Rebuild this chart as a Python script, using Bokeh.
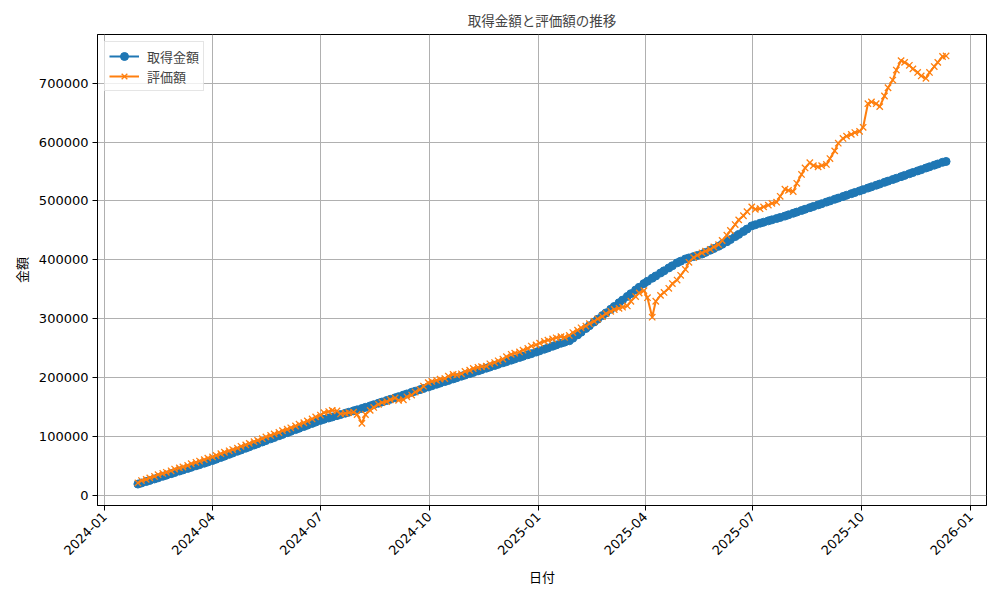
import math
import pandas as pd
from bokeh.plotting import figure
from bokeh.models import Range1d, FixedTicker, DatetimeTickFormatter, NumeralTickFormatter
from bokeh.embed import file_html
from bokeh.resources import INLINE

# ---- data: readings twice a week (Mondays and Thursdays) ----
mondays = pd.date_range("2024-01-29", "2025-12-08", freq="7D")
thursdays = mondays + pd.Timedelta(days=3)

acq_mon = [
    20000, 24300, 28700, 33200, 37600, 42100, 46500, 51000, 55400, 60000,
    65200, 70400, 75700, 80900, 86200, 91400, 96700, 101900, 107200, 112400,
    117600, 122900, 128000, 132100, 136100, 140200, 144200, 148200, 152600, 157200,
    161800, 166300, 170900, 175600, 180100, 184700, 189200, 193800, 198300, 202900,
    207400, 211900, 216500, 221000, 225600, 230100, 234700, 239300, 243800, 248700,
    253700, 258800, 263000, 273000, 283800, 294800, 305700, 316500, 327400, 338200,
    349100, 359900, 369100, 377900, 386500, 395100, 401700, 405800, 410000, 416600,
    423200, 430900, 439600, 448400, 457800, 462300, 466300, 470300, 474400, 479200,
    483900, 488700, 493400, 498100, 502900, 507600, 512400, 517100, 521900, 526700,
    531600, 536400, 541300, 546200, 551000, 555900, 560700, 565600,
]
acq_thu = [
    21800, 26200, 30600, 35100, 39500, 44000, 48400, 52900, 57400, 62200,
    67400, 72700, 77900, 83200, 88400, 93700, 98900, 104200, 109400, 114600,
    119900, 125100, 129800, 133800, 137900, 141900, 145900, 150100, 154600, 159200,
    163700, 168300, 172900, 177500, 182100, 186600, 191200, 195700, 200300, 204800,
    209300, 213900, 218400, 223000, 227500, 232100, 236700, 241200, 245900, 250800,
    255900, 260600, 267300, 277600, 288500, 299500, 310300, 321200, 332000, 342900,
    353700, 363900, 372900, 381600, 390200, 397900, 403500, 407600, 412800, 419400,
    426500, 434600, 443400, 452400, 459700, 464000, 468000, 472100, 476500, 481200,
    486000, 490700, 495400, 500200, 504900, 509700, 514400, 519200, 524000, 528800,
    533700, 538500, 543400, 548300, 553100, 558000, 562800, 567000,
]
val_mon = [
    22000, 28000, 33000, 38000, 42500, 47500, 51500, 57000, 61500, 66000,
    71500, 76500, 81000, 86500, 92000, 97000, 102500, 107500, 113000, 118500,
    124000, 130500, 137000, 143000, 144000, 140000, 142000, 123000, 145000, 155000,
    160000, 166000, 163000, 171000, 180000, 192000, 196000, 199000, 206000, 207000,
    213000, 218000, 220000, 226000, 232000, 240000, 244000, 250000, 256000, 262000,
    266000, 270000, 272000, 281000, 288000, 296000, 304000, 313000, 318000, 322000,
    338000, 348000, 303000, 340000, 352000, 366000, 384000, 404000, 412000, 418000,
    426000, 442000, 460000, 475000, 490000, 487000, 493000, 498000, 520000, 516000,
    545000, 565000, 558000, 562000, 585000, 606000, 613000, 618000, 665000, 665000,
    678000, 705000, 738000, 730000, 718000, 708000, 728000, 745000,
]
val_thu = [
    26000, 30500, 36000, 40000, 45500, 49000, 54500, 59000, 64000, 68500,
    74000, 78500, 84000, 89000, 94000, 100000, 105000, 110500, 115500, 121500,
    127000, 134000, 141000, 145000, 139000, 141000, 138000, 138000, 150000, 158000,
    163000, 162000, 168000, 176000, 186000, 194000, 198000, 203000, 205000, 211000,
    216000, 219000, 224000, 229000, 236000, 242000, 247000, 254000, 259000, 264000,
    268000, 269000, 277000, 285000, 292000, 300000, 309000, 316000, 320000, 330000,
    344000, 336000, 330000, 345000, 360000, 374000, 396000, 408000, 415000, 422000,
    433000, 450000, 468000, 482000, 486000, 490000, 496000, 508000, 518000, 530000,
    556000, 560000, 560000, 572000, 598000, 610000, 616000, 625000, 668000, 660000,
    692000, 722000, 735000, 724000, 712000, 718000, 735000, 746000,
]

y_ticks = [0, 100000, 200000, 300000, 400000, 500000, 600000, 700000]
x_tick_labels = ["2024-01", "2024-04", "2024-07", "2024-10", "2025-01",
                 "2025-04", "2025-07", "2025-10", "2026-01"]

title = "取得金額と評価額の推移"
xlabel = "日付"
ylabel = "金額"
name_acq = "取得金額"
name_val = "評価額"

# interleave Monday / Thursday readings in date order
dates, acquisition, valuation = [], [], []
for d1, d2, a1, a2, v1, v2 in zip(mondays, thursdays, acq_mon, acq_thu, val_mon, val_thu):
    dates += [d1, d2]
    acquisition += [a1, a2]
    valuation += [v1, v2]

# ---- ranges like matplotlib's 5% margins ----
dmin, dmax = min(dates), max(dates)
span = dmax - dmin
x_start = dmin - span * 0.05
x_end = dmax + span * 0.05
vmin = min(min(acquisition), min(valuation))
vmax = max(max(acquisition), max(valuation))
vr = vmax - vmin
y_start = vmin - 0.05 * vr
y_end = vmax + 0.05 * vr

JP = "Noto Sans CJK JP"
NUM = "DejaVu Sans"

p = figure(width=992, height=592, x_axis_type="datetime",
           output_backend="svg", toolbar_location=None,
           x_range=Range1d(x_start, x_end), y_range=Range1d(y_start, y_end),
           min_border_left=97, min_border_right=6, min_border_top=34, min_border_bottom=87)

p.title.text = title
p.title.align = "center"
p.title.text_font = JP
p.title.text_font_size = "13.5px"
p.title.text_font_style = "normal"
p.title.standoff = 9

blue = "#1f77b4"
orange = "#ff7f0e"

p.line(dates, acquisition, color=blue, line_width=2, legend_label=name_acq)
p.scatter(dates, acquisition, marker="circle", size=8, color=blue, legend_label=name_acq)
p.line(dates, valuation, color=orange, line_width=2, legend_label=name_val)
p.scatter(dates, valuation, marker="x", size=9, line_color=orange, line_width=1.3, legend_label=name_val)

# axes
tick_ms = [pd.Timestamp(s + "-01").value // 10**6 for s in x_tick_labels]
p.xaxis.ticker = FixedTicker(ticks=tick_ms)
fmt = "%Y-%m"
p.xaxis.formatter = DatetimeTickFormatter(milliseconds=fmt, seconds=fmt, minsec=fmt, minutes=fmt,
                                          hourmin=fmt, hours=fmt, days=fmt, months=fmt, years=fmt,
                                          context=None)
p.xaxis.major_label_orientation = math.pi / 4
p.yaxis.ticker = FixedTicker(ticks=y_ticks)
p.yaxis.formatter = NumeralTickFormatter(format="0")

for ax in (p.xaxis, p.yaxis):
    ax.major_label_text_font = NUM
    ax.major_label_text_font_size = "13px"
    ax.major_label_text_color = "black"
    ax.axis_line_color = "black"
    ax.major_tick_line_color = "black"
    ax.major_tick_out = 5
    ax.major_tick_in = 0
    ax.minor_tick_line_color = None
    ax.axis_label_text_font = JP
    ax.axis_label_text_font_size = "13px"
    ax.axis_label_text_font_style = "normal"
    ax.axis_label_text_color = "black"

p.xaxis.axis_label = xlabel
p.yaxis.axis_label = ylabel
p.xaxis.major_label_standoff = 4
p.yaxis.major_label_standoff = 4

p.grid.grid_line_color = "#b0b0b0"
p.grid.grid_line_width = 1
p.outline_line_color = "black"
p.outline_line_alpha = 1
p.outline_line_width = 1

p.legend.location = "top_left"
p.legend.margin = 7
p.legend.padding = 4
p.legend.spacing = 0
p.legend.glyph_width = 30
p.legend.label_standoff = 8
p.legend.label_text_font = JP
p.legend.label_text_font_size = "13px"
p.legend.border_line_color = "#cccccc"
p.legend.background_fill_alpha = 0.8

open("out.html", "w").write(file_html(p, INLINE))
